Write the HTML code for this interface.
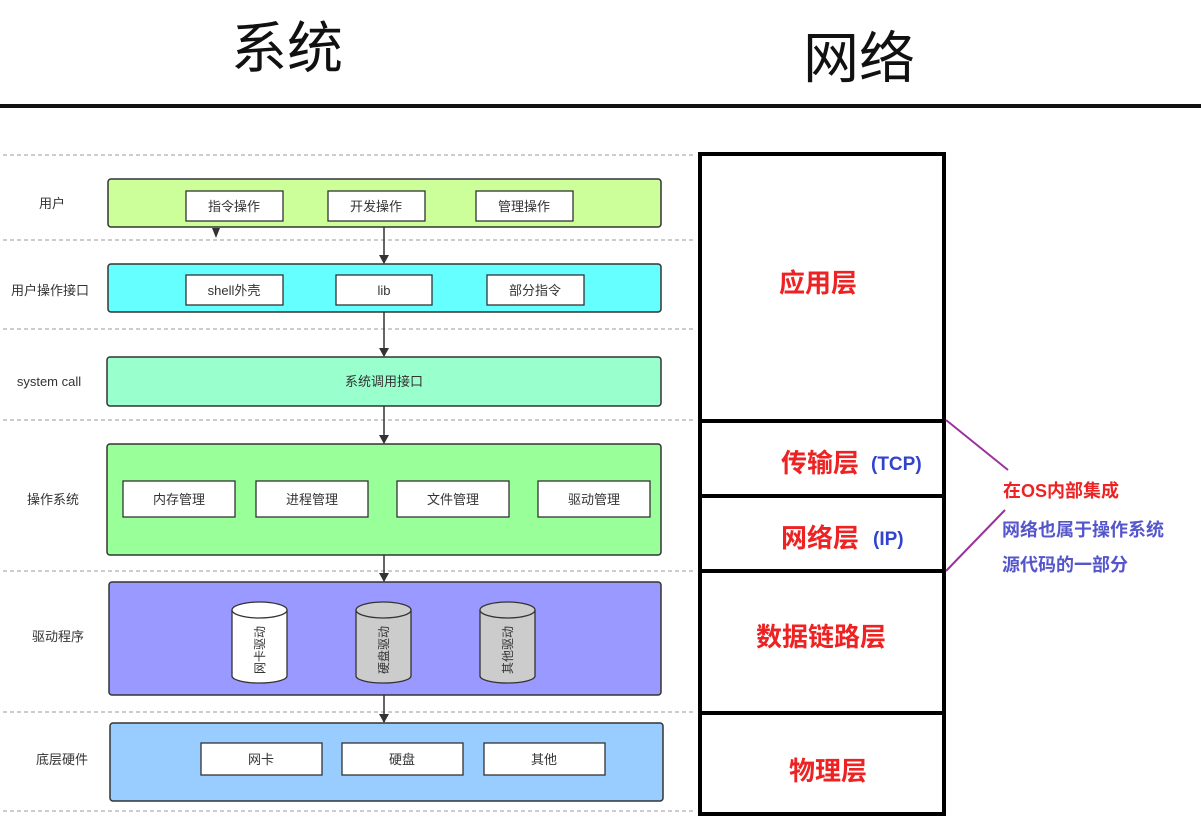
<!DOCTYPE html>
<html><head><meta charset="utf-8"><style>
body{margin:0;background:#fff;}
text{font-family:"Liberation Sans","Noto Sans CJK SC",sans-serif;}
</style></head><body>
<svg width="1201" height="831" xmlns="http://www.w3.org/2000/svg">
<defs><marker id="a" markerWidth="10" markerHeight="10" refX="8" refY="5" orient="auto" markerUnits="userSpaceOnUse"><path d="M0,0 L9,5 L0,10 z" fill="#333"/></marker></defs>
<rect width="1201" height="831" fill="#fff"/>
<text x="287" y="68" font-size="56" text-anchor="middle" fill="#111">系统</text>
<text x="859" y="78" font-size="56" text-anchor="middle" fill="#111">网络</text>
<rect x="0" y="104" width="1201" height="4" fill="#111"/>
<g stroke="#999" stroke-dasharray="4,3" stroke-width="1">
<line x1="3" y1="155" x2="695" y2="155"/><line x1="3" y1="240" x2="695" y2="240"/><line x1="3" y1="329" x2="695" y2="329"/><line x1="3" y1="420" x2="695" y2="420"/><line x1="3" y1="571" x2="695" y2="571"/><line x1="3" y1="712" x2="695" y2="712"/><line x1="3" y1="811" x2="695" y2="811"/>
</g>
<g font-size="13" fill="#333" text-anchor="middle">
<text x="52" y="208">用户</text><text x="50" y="295">用户操作接口</text><text x="49" y="386">system call</text><text x="53" y="504">操作系统</text><text x="58" y="641">驱动程序</text><text x="62" y="764">底层硬件</text>
</g>
<g stroke="#333" stroke-width="1.5">
<rect x="108" y="179" width="553" height="48" rx="3" fill="#ccff99"/>
<rect x="108" y="264" width="553" height="48" rx="3" fill="#66ffff"/>
<rect x="107" y="357" width="554" height="49" rx="3" fill="#99ffcc"/>
<rect x="107" y="444" width="554" height="111" rx="3" fill="#99ff99"/>
<rect x="109" y="582" width="552" height="113" rx="3" fill="#9999ff"/>
<rect x="110" y="723" width="553" height="78" rx="3" fill="#99ccff"/>
</g>
<g stroke="#333" stroke-width="1.3" fill="#fff">
<rect x="186" y="191" width="97" height="30"/><rect x="328" y="191" width="97" height="30"/><rect x="476" y="191" width="97" height="30"/>
<rect x="186" y="275" width="97" height="30"/><rect x="336" y="275" width="96" height="30"/><rect x="487" y="275" width="97" height="30"/>
<rect x="123" y="481" width="112" height="36"/><rect x="256" y="481" width="112" height="36"/><rect x="397" y="481" width="112" height="36"/><rect x="538" y="481" width="112" height="36"/>
<rect x="201" y="743" width="121" height="32"/><rect x="342" y="743" width="121" height="32"/><rect x="484" y="743" width="121" height="32"/>
</g>
<g font-size="13" fill="#333" text-anchor="middle">
<text x="234" y="211">指令操作</text><text x="376" y="211">开发操作</text><text x="524" y="211">管理操作</text>
<text x="234" y="295">shell外壳</text><text x="384" y="295">lib</text><text x="535" y="295">部分指令</text>
<text x="384" y="386">系统调用接口</text>
<text x="179" y="504">内存管理</text><text x="312" y="504">进程管理</text><text x="453" y="504">文件管理</text><text x="594" y="504">驱动管理</text>
<text x="261" y="764">网卡</text><text x="402" y="764">硬盘</text><text x="544" y="764">其他</text>
</g>
<g stroke="#333" stroke-width="1.3">
<path d="M232,610 L232,676 A27.5,7 0 0 0 287,676 L287,610" fill="#fff"/><ellipse cx="259.5" cy="610" rx="27.5" ry="8" fill="#fff"/>
<path d="M356,610 L356,676 A27.5,7 0 0 0 411,676 L411,610" fill="#ccc"/><ellipse cx="383.5" cy="610" rx="27.5" ry="8" fill="#ccc"/>
<path d="M480,610 L480,676 A27.5,7 0 0 0 535,676 L535,610" fill="#ccc"/><ellipse cx="507.5" cy="610" rx="27.5" ry="8" fill="#ccc"/>
</g>
<g font-size="12" fill="#333" text-anchor="middle">
<text transform="translate(264,650) rotate(-90)">网卡驱动</text>
<text transform="translate(388,650) rotate(-90)">硬盘驱动</text>
<text transform="translate(512,650) rotate(-90)">其他驱动</text>
</g>
<g stroke="#333" stroke-width="1.5" marker-end="url(#a)">
<line x1="384" y1="227" x2="384" y2="263"/><line x1="384" y1="312" x2="384" y2="356"/><line x1="384" y1="406" x2="384" y2="443"/><line x1="384" y1="555" x2="384" y2="581"/><line x1="384" y1="695" x2="384" y2="722"/>
</g>
<path d="M212,228 L220,228 L216,238 z" fill="#333"/>
<rect x="700" y="154" width="244" height="660" fill="none" stroke="#000" stroke-width="4"/>
<g stroke="#000" stroke-width="4"><line x1="700" y1="421" x2="944" y2="421"/><line x1="700" y1="496" x2="944" y2="496"/><line x1="700" y1="571" x2="944" y2="571"/><line x1="700" y1="713" x2="944" y2="713"/></g>
<g font-size="26" font-weight="bold" fill="#ee2222" text-anchor="middle">
<text x="818" y="292">应用层</text><text x="820" y="472">传输层</text><text x="820" y="547">网络层</text><text x="821" y="646">数据链路层</text><text x="828" y="780">物理层</text>
</g>
<g font-size="19" font-weight="bold" fill="#3344cc"><text x="871" y="470">(TCP)</text><text x="873" y="545">(IP)</text></g>
<g stroke="#993399" stroke-width="2"><line x1="946" y1="420" x2="1008" y2="470"/><line x1="946" y1="571" x2="1005" y2="510"/></g>
<text x="1003" y="497" font-size="18" font-weight="bold" fill="#ee2222">在OS内部集成</text>
<g font-size="18" font-weight="bold" fill="#5555cc"><text x="1002" y="536">网络也属于操作系统</text><text x="1002" y="571">源代码的一部分</text></g>
</svg>
</body></html>
